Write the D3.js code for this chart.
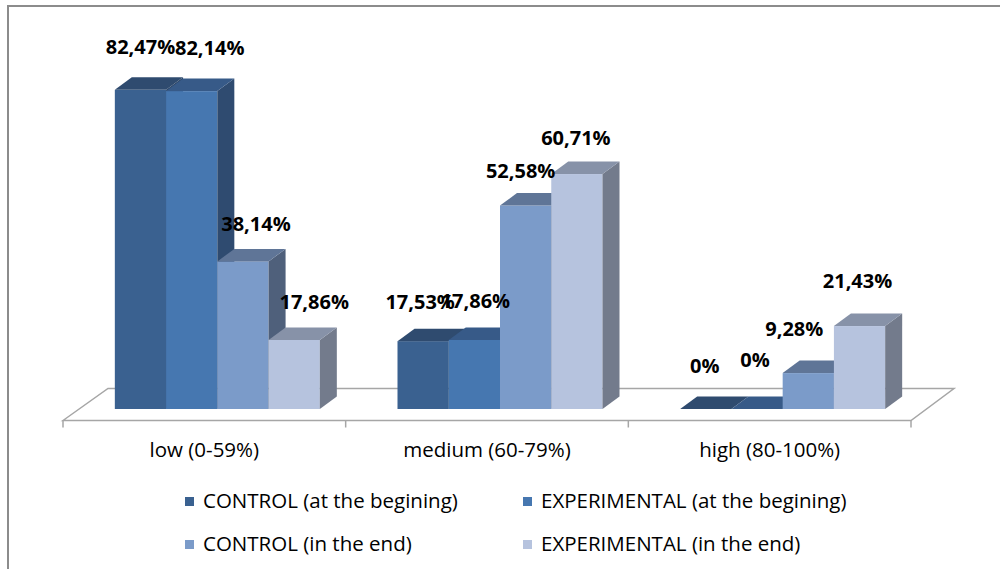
<!DOCTYPE html>
<html>
<head>
<meta charset="utf-8">
<script src="https://cdn.jsdelivr.net/npm/d3@7"></script>
<style>
  html, body { margin: 0; padding: 0; background: #ffffff; }
  svg { display: block; }
</style>
</head>
<body>
<svg id="chart" width="1000" height="569"></svg>
<script>
const categories = ["low (0-59%)", "medium (60-79%)", "high (80-100%)"];
const seriesNames = [
  "CONTROL (at the begining)",
  "EXPERIMENTAL (at the begining)",
  "CONTROL (in the end)",
  "EXPERIMENTAL (in the end)"
];
const controlBegin = [82.47, 17.53, 0];
const experimentalBegin = [82.14, 17.86, 0];
const controlEnd = [38.14, 52.58, 9.28];
const experimentalEnd = [17.86, 60.71, 21.43];
const seriesValues = [controlBegin, experimentalBegin, controlEnd, experimentalEnd];
const valueLabels = [
  ["82,47%", "17,53%", "0%"],
  ["82,14%", "17,86%", "0%"],
  ["38,14%", "52,58%", "9,28%"],
  ["17,86%", "60,71%", "21,43%"]
];

// styling
const frontColors = ["#3a6190", "#4677b0", "#7b9bc9", "#b6c3de"];
const topColors   = ["#2f4b6f", "#375a88", "#5f7597", "#8792a8"];
const sideColors  = ["#2c4668", "#2f4b70", "#4f607b", "#737b8c"];
// label placement nudges [series][category] (dx, dy above bar top)
const labelNudgeX = [[0, -3, -1], [18, 1, -2], [13, -5, -14], [20, -1, -2]];
const labelLift   = [[36, 32, 36], [36, 32, 42], [30, 28, 37], [31, 29, 38]];

const svg = d3.select("#chart");
const FONT = "'Open Sans', 'Liberation Sans', sans-serif";

// outer border (top and left visible)
svg.append("path")
  .attr("d", "M8,569 L8,6 L1000,6")
  .attr("fill", "none")
  .attr("stroke", "#8c8c8c")
  .attr("stroke-width", 2);

// floor geometry
const floorFrontY = 420.5, floorBackY = 388.5;
const floorDX = 44;
const x = d3.scaleBand().domain(categories).range([63, 911]).paddingInner(0).paddingOuter(0);
const barBaseY = 409;
const y = d3.scaleLinear().domain([0, 100]).range([barBaseY, barBaseY - 387]);
const depthX = 17, depthY = -12.5;
const groupWidth = 205;
const groupShift = 13;
const xs = d3.scaleBand().domain(d3.range(seriesNames.length)).range([0, groupWidth]).padding(0);

// floor
const x0 = x.range()[0], x1 = x.range()[1];
svg.append("path")
  .attr("d", `M${x0},${floorFrontY} L${x0 + floorDX + 1},${floorBackY} L${x1 + floorDX - 1},${floorBackY} L${x1},${floorFrontY} Z`)
  .attr("fill", "#ffffff")
  .attr("stroke", "#a6a6a6")
  .attr("stroke-width", 1.5);

// category ticks
const tickXs = categories.map(c => x(c)).concat([x1]);
svg.selectAll("line.tick").data(tickXs).enter().append("line")
  .attr("x1", d => d).attr("x2", d => d)
  .attr("y1", floorFrontY).attr("y2", floorFrontY + 7)
  .attr("stroke", "#a6a6a6").attr("stroke-width", 1.5);

// category labels
svg.selectAll("text.cat").data(categories).enter().append("text")
  .attr("x", d => x(d) + x.bandwidth() / 2)
  .attr("y", 457)
  .attr("text-anchor", "middle")
  .attr("font-family", FONT)
  .attr("font-size", 20.5)
  .attr("fill", "#000")
  .text(d => d);

// bars
const g = svg.append("g");
categories.forEach((cat, ci) => {
  const gx = x(cat) + (x.bandwidth() - groupWidth) / 2 + groupShift;
  seriesValues.forEach((vals, si) => {
    const v = vals[ci];
    const bx = gx + xs(si);
    const bw = xs.bandwidth();
    const ty = y(v);
    const by = y(0);
    if (by - ty > 0.1) {
      g.append("rect")
        .attr("x", bx).attr("y", ty)
        .attr("width", bw).attr("height", by - ty)
        .attr("fill", frontColors[si]);
      g.append("path")
        .attr("d", `M${bx + bw},${ty} L${bx + bw + depthX},${ty + depthY} L${bx + bw + depthX},${by + depthY} L${bx + bw},${by} Z`)
        .attr("fill", sideColors[si]);
    }
    g.append("path")
      .attr("d", `M${bx},${ty} L${bx + depthX},${ty + depthY} L${bx + bw + depthX},${ty + depthY} L${bx + bw},${ty} Z`)
      .attr("fill", topColors[si]);
  });
});

// value labels
categories.forEach((cat, ci) => {
  const gx = x(cat) + (x.bandwidth() - groupWidth) / 2 + groupShift;
  seriesValues.forEach((vals, si) => {
    const v = vals[ci];
    svg.append("text")
      .attr("x", gx + xs(si) + xs.bandwidth() / 2 + labelNudgeX[si][ci])
      .attr("y", y(v) - labelLift[si][ci])
      .attr("text-anchor", "middle")
      .attr("font-family", FONT)
      .attr("font-weight", "bold")
      .attr("font-size", 20)
      .attr("fill", "#000")
      .text(valueLabels[si][ci]);
  });
});

// legend
const legendPos = [[185, 497], [523, 497], [185, 540], [523, 540]];
const lg = svg.selectAll("g.legend").data(seriesNames).enter().append("g")
  .attr("transform", (d, i) => `translate(${legendPos[i][0]},${legendPos[i][1]})`);
lg.append("rect").attr("width", 9).attr("height", 9).attr("fill", (d, i) => frontColors[i]);
lg.append("text")
  .attr("x", 18).attr("y", 11)
  .attr("font-family", FONT)
  .attr("font-size", 20.5)
  .attr("fill", "#000")
  .text(d => d);
</script>
</body>
</html>
